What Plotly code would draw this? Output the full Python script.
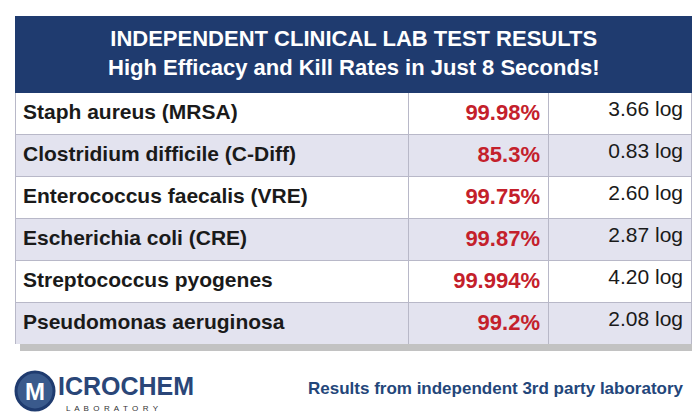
import plotly.graph_objects as go

organisms = ["Staph aureus (MRSA)", "Clostridium difficile (C-Diff)", "Enterococcus faecalis (VRE)",
             "Escherichia coli (CRE)", "Streptococcus pyogenes", "Pseudomonas aeruginosa"]
kill_pct = ["99.98%", "85.3%", "99.75%", "99.87%", "99.994%", "99.2%"]
log_red = ["3.66 log", "0.83 log", "2.60 log", "2.87 log", "4.20 log", "2.08 log"]

W, H = 700, 413
navy = "#1f3b6f"
fills = ["#ffffff" if i % 2 == 0 else "#e3e3ef" for i in range(len(organisms))]
font = "Liberation Sans, Arial, sans-serif"

def px(x, y):
    return x / W, 1 - y / H

def note(x, y, text, size, color, xanchor="center", family=font):
    fig.add_annotation(xref="paper", yref="paper", x=px(x, 0)[0], y=px(0, y)[1],
                       xanchor=xanchor, yanchor="middle", text=text, showarrow=False,
                       font=dict(family=family, size=size, color=color))

fig = go.Figure()

# drop shadow behind table
fig.add_shape(type="rect", xref="paper", yref="paper",
              x0=px(12, 0)[0], x1=px(690, 0)[0], y0=px(0, 343)[1], y1=px(0, 14)[1],
              fillcolor="#9a9a9a", line_width=0, opacity=0.6, layer="below")

fig.add_trace(go.Table(
    domain=dict(x=[px(7, 0)[0], px(683, 0)[0]], y=[px(0, 336)[1], px(0, 8)[1]]),
    columnwidth=[393, 140, 143],
    header=dict(values=["", "", ""], height=76, fill_color=navy, line=dict(color=navy, width=1)),
    cells=dict(values=[["<b>" + o + "</b>" for o in organisms],
                       ["<b>" + k + "</b>" for k in kill_pct], log_red],
               align=["left", "right", "right"], height=42,
               fill_color=[fills, fills, fills],
               line=dict(color="#b8b8c8", width=1),
               font=dict(family=font, size=[21, 22, 21],
                         color=["#1a1a1a", "#c4202b", "#1a1a1a"]),
               ),
))

note(345, 45, "<b>INDEPENDENT CLINICAL LAB TEST RESULTS<br>High Efficacy and Kill Rates in Just 8 Seconds!</b>",
     22, "white")

# logo
fig.add_shape(type="circle", xref="paper", yref="paper",
              x0=px(8, 0)[0], x1=px(46, 0)[0], y0=px(0, 402)[1], y1=px(0, 364)[1],
              line=dict(color="#1f3b6f", width=3), fillcolor="#3a5a8c", layer="below")
note(27, 383, "<b>M</b>", 24, "white")
note(48, 378, "<b>ICROCHEM</b>", 25, "#2a4678", xanchor="left")
note(56, 400, "L  A  B  O  R  A  T  O  R  Y", 8, "#333", xanchor="left")
note(678, 380, "<b>Results from independent 3rd party laboratory</b>", 17, "#23467a", xanchor="right")

fig.update_layout(width=W, height=H, margin=dict(l=0, r=0, t=0, b=0),
                  paper_bgcolor="white", plot_bgcolor="white")

fig.write_html("out.html")
